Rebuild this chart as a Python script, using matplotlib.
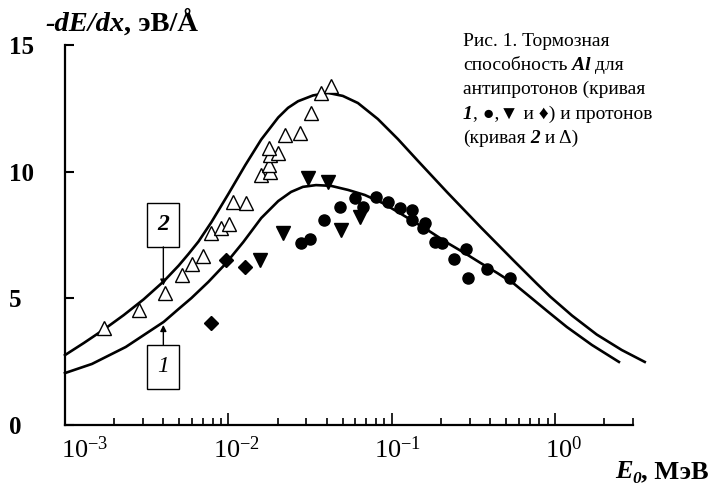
import matplotlib
matplotlib.use('Agg')
import matplotlib.pyplot as plt
import matplotlib.transforms as mtransforms
from matplotlib.patches import Rectangle
from matplotlib.ticker import NullLocator

FAM = ['Liberation Serif', 'DejaVu Sans']
plt.rcParams['font.family'] = FAM
plt.rcParams['mathtext.fontset'] = 'custom'
plt.rcParams['mathtext.rm'] = 'Liberation Serif'
plt.rcParams['mathtext.it'] = 'Liberation Serif:italic'
plt.rcParams['mathtext.bf'] = 'Liberation Serif:bold'

# ---------------- data ----------------
# curve 2 : protons (theory)
curve2_E = [0.001, 0.001306, 0.00173, 0.00229, 0.00303, 0.00402, 0.00496, 0.00570,
            0.00656, 0.00788, 0.0100, 0.0127, 0.0159, 0.0202, 0.0232, 0.0267,
            0.0330, 0.0407, 0.0502, 0.0621, 0.0822, 0.109, 0.144, 0.219, 0.349,
            0.562, 0.776, 0.933, 1.27, 1.80, 2.56, 3.54]
curve2_S = [2.76, 3.24, 3.77, 4.34, 4.96, 5.67, 6.29, 6.75,
            7.24, 8.01, 9.12, 10.26, 11.27, 12.14, 12.52, 12.78,
            13.01, 13.11, 12.99, 12.71, 12.08, 11.29, 10.44, 9.18, 7.82,
            6.47, 5.57, 5.07, 4.32, 3.57, 2.96, 2.49]

# curve 1 : antiprotons (theory)
curve1_E = [0.001, 0.001462, 0.002355, 0.00402, 0.00496, 0.00594, 0.00755, 0.00960,
            0.01234, 0.0159, 0.0202, 0.0242, 0.0286, 0.0344, 0.0425, 0.0540,
            0.0684, 0.0881, 0.109, 0.138, 0.173, 0.219, 0.279, 0.349, 0.443,
            0.562, 0.705, 0.894, 1.18, 1.68, 2.46]
curve1_S = [2.05, 2.41, 3.08, 4.07, 4.58, 5.01, 5.65, 6.36,
            7.22, 8.17, 8.84, 9.20, 9.40, 9.47, 9.44, 9.28,
            9.08, 8.76, 8.41, 8.01, 7.62, 7.19, 6.79, 6.40, 6.00,
            5.57, 5.05, 4.50, 3.87, 3.16, 2.49]

# protons, experiment (open triangles)
prot_E = [0.00173, 0.00282, 0.00407, 0.00517, 0.00603, 0.00704, 0.00788, 0.00906,
          0.0101, 0.0107, 0.0129, 0.0159, 0.0180, 0.0178, 0.0180, 0.0202, 0.0178,
          0.0223, 0.0275, 0.0321, 0.0369, 0.0425]
prot_S = [3.83, 4.54, 5.21, 5.92, 6.36, 6.67, 7.58, 7.78,
          7.94, 8.8, 8.76, 9.87, 9.99, 10.26, 10.66, 10.74, 10.94,
          11.45, 11.53, 12.32, 13.1, 13.38]

# antiprotons, experiment: circles
circ_E = [0.0279, 0.0316, 0.0385, 0.0482, 0.0595, 0.0665, 0.0798, 0.0946, 0.112,
          0.134, 0.134, 0.161, 0.155, 0.183, 0.202, 0.283, 0.239, 0.385, 0.295, 0.532]
circ_S = [7.18, 7.34, 8.09, 8.6, 8.96, 8.6, 9.0, 8.8, 8.55,
          8.49, 8.09, 7.97, 7.78, 7.22, 7.18, 6.95, 6.55, 6.16, 5.8, 5.8]

# antiprotons, experiment: down triangles
tri_E = [0.0157, 0.0216, 0.0308, 0.0407, 0.0489, 0.0638]
tri_S = [6.51, 7.58, 9.75, 9.59, 7.7, 8.21]

# antiprotons, experiment: diamonds
dia_E = [0.00788, 0.00972, 0.0127]
dia_S = [4.03, 6.51, 6.24]

xtick_values = [1e-3, 1e-2, 1e-1, 1e0]
xtick_labels = [r'$\mathregular{10^{-3}}$', r'$\mathregular{10^{-2}}$',
                r'$\mathregular{10^{-1}}$', r'$\mathregular{10^{0}}$']
ytick_values = [0, 5, 10, 15]
ytick_labels = ['0', '5', '10', '15']

caption = [
    [("Рис. 1. Тормозная", 'n')],
    [("способность", 'n'), (" Al", 'bi'), (" для", 'n')],
    [("антипротонов (кривая", 'n')],
    [("1", 'bi'), (", ●,▼ и ♦) и протонов", 'n')],
    [("(кривая", 'n'), (" 2", 'bi'), (" и Δ)", 'n')],
]

# ---------------- figure ----------------
W, H = 718, 486
fig = plt.figure(figsize=(W / 100, H / 100), dpi=100)
ax = fig.add_axes([65 / W, 61 / H, 568 / W, 380 / H])
ax.set_xscale('log')
ax.set_xlim(1e-3, 3)
ax.set_ylim(0, 15)
for s in ['top', 'right']:
    ax.spines[s].set_visible(False)
for s in ['left', 'bottom']:
    ax.spines[s].set_linewidth(1.6)

ax.set_xticks(xtick_values)
minor = [m * 10.0 ** d for d in (-3, -2, -1) for m in range(2, 10)] + [2, 3]
ax.set_xticks(minor, minor=True)
ax.set_xticklabels([])
ax.set_xticklabels([], minor=True)
ax.tick_params(axis='x', which='major', direction='in', length=9, width=1.2)
ax.tick_params(axis='x', which='minor', direction='in', length=5, width=1.2)
ax.set_yticks(ytick_values)
ax.set_yticklabels([])
ax.yaxis.set_minor_locator(NullLocator())
ax.tick_params(axis='y', direction='in', length=6.5, width=1.5)

# curves
ax.plot(curve2_E, curve2_S, color='black', lw=1.9, clip_on=False, zorder=2,
        solid_joinstyle='round')
ax.plot(curve1_E, curve1_S, color='black', lw=1.9, clip_on=False, zorder=2,
        solid_joinstyle='round')

# markers
ax.plot(prot_E, prot_S, ls='none', marker='^', ms=9.5, mfc='white', mec='black',
        mew=1.0, zorder=3)
ax.plot(circ_E, circ_S, ls='none', marker='o', ms=8, color='black', zorder=3)
ax.plot(tri_E, tri_S, ls='none', marker='v', ms=9.5, color='black', zorder=3)
ax.plot(dia_E, dia_S, ls='none', marker='D', ms=7, color='black', zorder=3)

# tick labels (manual, for exact placement)
xoff = [20, 8, 6, 9]
for v, lab, dx in zip(xtick_values, xtick_labels, xoff):
    t = ax.text(v, 0, lab, ha='center', va='top', fontsize=19, clip_on=False)
    t.set_transform(ax.get_xaxis_transform() +
                    mtransforms.ScaledTranslation(dx / 100, -11 / 100, fig.dpi_scale_trans))
ytr = mtransforms.blended_transform_factory(fig.transFigure, ax.transData)
for v, lab in zip(ytick_values, ytick_labels):
    ax.text(9 / W, v, lab, transform=ytr, ha='left', va='center_baseline',
            fontsize=18, fontweight='bold', clip_on=False)

# curve number boxes with arrows
def numbox(E, S, txt, style):
    tr = fig.dpi_scale_trans + mtransforms.ScaledTranslation(E, S, ax.transData)
    ax.add_patch(Rectangle((-16 / 100, -22 / 100), 32 / 100, 44 / 100, transform=tr,
                           fc='white', ec='black', lw=1.0, clip_on=False, zorder=4))
    ax.text(E, S, txt, ha='center', va='center', fontsize=17, fontstyle='italic',
            fontweight=style, zorder=5)

numbox(0.004, 7.9, '2', 'bold')
numbox(0.004, 2.3, '1', 'normal')
ax.annotate('', xy=(0.004, 5.5), xytext=(0.004, 7.03),
            arrowprops=dict(arrowstyle='-|>', lw=1.0, color='black',
                            mutation_scale=9, shrinkA=0, shrinkB=0), zorder=4)
ax.annotate('', xy=(0.004, 3.95), xytext=(0.004, 3.17),
            arrowprops=dict(arrowstyle='-|>', lw=1.0, color='black',
                            mutation_scale=9, shrinkA=0, shrinkB=0), zorder=4)


def style_kw(style, size):
    kw = dict(fontsize=size, family=FAM)
    if style == 'bi':
        kw.update(fontweight='bold', fontstyle='italic')
    elif style == 'b':
        kw.update(fontweight='bold')
    elif style == 'i':
        kw.update(fontstyle='italic')
    return kw


def chain(x, y, pieces, size):
    prev = None
    for s, st in pieces:
        kw = style_kw(st, size)
        if prev is None:
            prev = fig.text(x, y, s, ha='left', va='baseline', **kw)
        else:
            prev = ax.annotate(s, xy=(1, 0), xycoords=prev, ha='left', va='bottom',
                               annotation_clip=False, **kw)
    return prev

# caption
for i, line in enumerate(caption):
    chain(463 / W, 1 - (46 + 24.2 * i) / H, line, 14)

# y axis title
chain(45 / W, 1 - 31 / H, [("-dE/dx", 'bi'), (", эВ/Å", 'b')], 20.5)

# x axis title
tE = fig.text(615 / W, 1 - 478 / H, "E", ha='left', va='baseline', **style_kw('bi', 19))
t0 = ax.annotate("0", xy=(1, 0), xycoords=tE, xytext=(0, -3), textcoords='offset points',
                 ha='left', va='bottom', annotation_clip=False, **style_kw('bi', 12.5))
ax.annotate(", МэВ", xy=(1, 0), xycoords=(t0, tE), ha='left', va='bottom',
            annotation_clip=False, **style_kw('b', 19))

fig.savefig('out.png', dpi=100, facecolor='white')
